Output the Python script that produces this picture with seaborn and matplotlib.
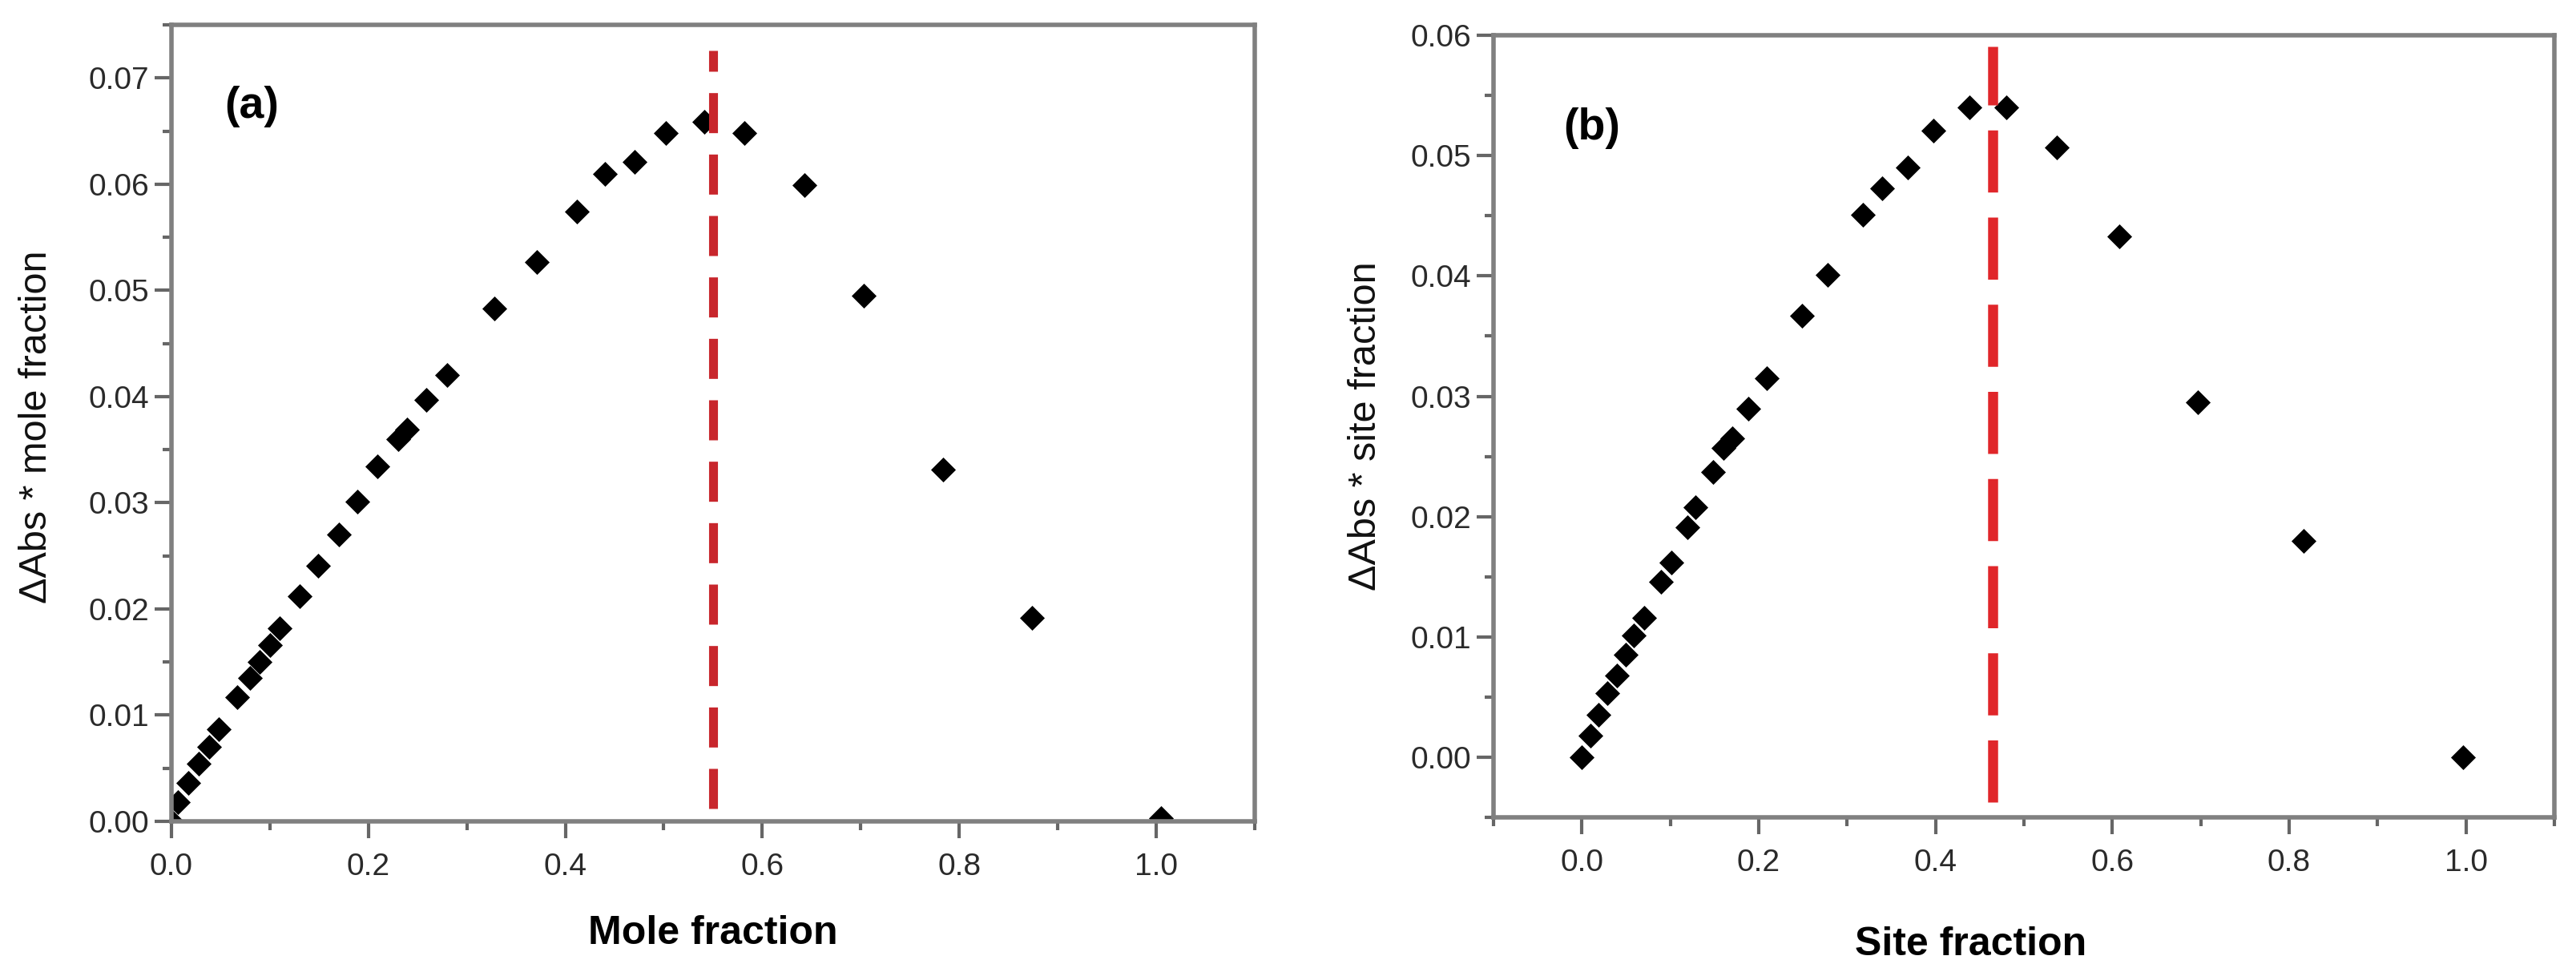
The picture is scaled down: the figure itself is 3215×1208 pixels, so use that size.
import pandas as pd
import seaborn as sns
import matplotlib.pyplot as plt
from matplotlib.ticker import MultipleLocator, FormatStrFormatter

# plain white style, Arial-like text
sns.set_theme(style="white")
plt.rcParams['font.family'] = ['Liberation Sans', 'DejaVu Sans']

# panel (a): delta Abs * mole fraction vs mole fraction
mole_x = [0.0, 0.007, 0.017, 0.028, 0.038, 0.048, 0.067, 0.080, 0.090, 0.100,
          0.110, 0.130, 0.149, 0.170, 0.189, 0.209, 0.230, 0.239, 0.259, 0.280,
          0.328, 0.371, 0.412, 0.440, 0.470, 0.502, 0.541, 0.582, 0.643, 0.703,
          0.784, 0.874, 1.005]
mole_y = [0.0, 0.0018, 0.0036, 0.0054, 0.0070, 0.0087, 0.0117, 0.0135, 0.0150, 0.0166,
          0.0182, 0.0212, 0.0241, 0.0270, 0.0301, 0.0334, 0.0360, 0.0369, 0.0397, 0.0420,
          0.0483, 0.0527, 0.0574, 0.0610, 0.0621, 0.0648, 0.0659, 0.0648, 0.0599, 0.0495,
          0.0331, 0.0192, 0.0003]

# panel (b): delta Abs * site fraction vs site fraction
site_x = [0.0, 0.0096, 0.019, 0.029, 0.040, 0.050, 0.059, 0.070, 0.089, 0.101,
          0.119, 0.128, 0.148, 0.160, 0.170, 0.188, 0.209, 0.249, 0.278, 0.318,
          0.340, 0.369, 0.398, 0.438, 0.480, 0.537, 0.608, 0.697, 0.816, 0.997]
site_y = [0.0, 0.0018, 0.0035, 0.0053, 0.0068, 0.0085, 0.0101, 0.0116, 0.0146, 0.0162,
          0.0191, 0.0208, 0.0237, 0.0257, 0.0265, 0.0290, 0.0315, 0.0367, 0.0401, 0.0451,
          0.0473, 0.0490, 0.0521, 0.0540, 0.0540, 0.0507, 0.0433, 0.0295, 0.0180, 0.0000]

# maxima marked by the dashed lines
peak_mole = 0.55
peak_site = 0.465

fig = plt.figure(figsize=(32.16, 12.08), dpi=100)
ax_a = fig.add_axes([0.0665, 0.1515, 0.4204, 0.8228])
ax_b = fig.add_axes([0.5796, 0.1556, 0.4117, 0.8079])

panels = [
    dict(ax=ax_a, x=mole_x, y=mole_y, xlim=(0, 1.1), ylim=(0, 0.075),
         peak=peak_mole, vspan=(0.016, 0.968), color='#c8262c', lw=8, dashes=(4.5, 2.4),
         xlabel='Mole fraction', ylabel='ΔAbs * mole fraction', tag='(a)',
         tag_pos=(0.049, 0.897), xlab_pos=(0.5, -0.118), ylab_pos=(-0.108, 0.495)),
    dict(ax=ax_b, x=site_x, y=site_y, xlim=(-0.1, 1.1), ylim=(-0.005, 0.06),
         peak=peak_site, vspan=(0.02, 0.986), color='#e0262a', lw=9, dashes=(6.2, 2.5),
         xlabel='Site fraction', ylabel='ΔAbs * site fraction', tag='(b)',
         tag_pos=(0.066, 0.881), xlab_pos=(0.45, -0.139), ylab_pos=(-0.1035, 0.5)),
]

for p in panels:
    ax = p['ax']
    df = pd.DataFrame({'x': p['x'], 'y': p['y']})
    sns.scatterplot(data=df, x='x', y='y', ax=ax, marker='D', s=250,
                    color='black', edgecolor='black', linewidth=0, zorder=2)
    # dashed stoichiometry line
    line = ax.axvline(p['peak'], ymin=p['vspan'][0], ymax=p['vspan'][1],
                      color=p['color'], lw=p['lw'], zorder=3)
    line.set_dashes(p['dashes'])

    ax.set_xlim(*p['xlim'])
    ax.set_ylim(*p['ylim'])
    ax.set_xticks([0.0, 0.2, 0.4, 0.6, 0.8, 1.0])
    ax.xaxis.set_minor_locator(MultipleLocator(0.1))
    ax.yaxis.set_major_locator(MultipleLocator(0.01))
    ax.yaxis.set_minor_locator(MultipleLocator(0.005))
    ax.xaxis.set_major_formatter(FormatStrFormatter('%.1f'))
    ax.yaxis.set_major_formatter(FormatStrFormatter('%.2f'))

    for s in ax.spines.values():
        s.set_color('#808080')
        s.set_linewidth(4)
    ax.tick_params(which='both', direction='out', color='#666666', width=3,
                   bottom=True, left=True, top=False, right=False)
    ax.tick_params(which='major', length=15, labelsize=28, labelcolor='#2a2a2a')
    ax.tick_params(which='minor', length=8)
    ax.tick_params(axis='x', which='major', pad=13)
    ax.tick_params(axis='y', which='major', pad=5)

    ax.set_xlabel(p['xlabel'], fontsize=36, fontweight='bold', color='black')
    ax.set_ylabel(p['ylabel'], fontsize=35, color='#111111')
    ax.xaxis.set_label_coords(*p['xlab_pos'])
    ax.yaxis.set_label_coords(*p['ylab_pos'])

    ax.text(p['tag_pos'][0], p['tag_pos'][1], p['tag'], transform=ax.transAxes,
            fontsize=40, fontweight='bold', va='center', ha='left', color='black')

fig.savefig('out.png', dpi=100, facecolor='white')
